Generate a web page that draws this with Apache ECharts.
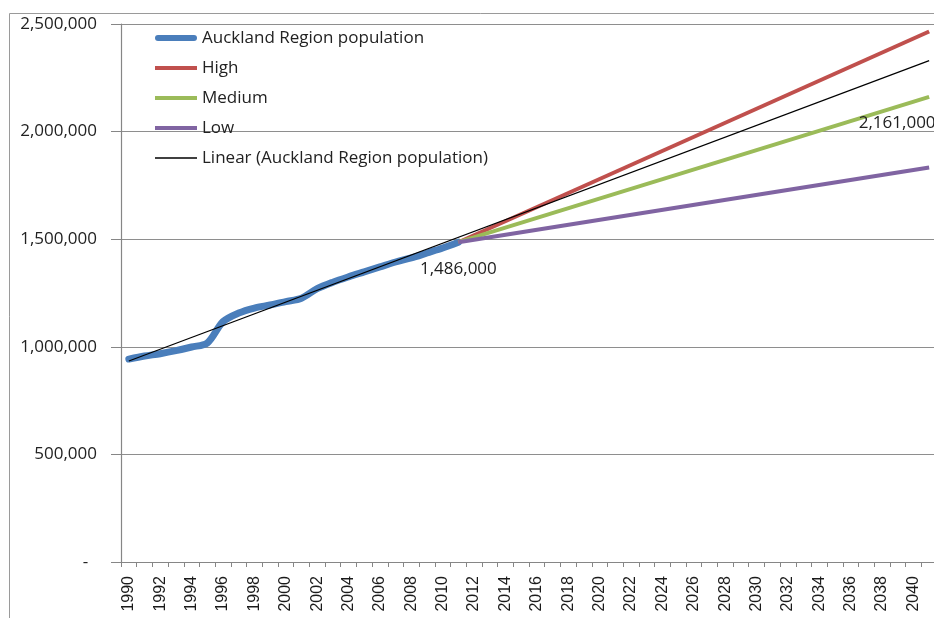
<!DOCTYPE html>
<html>
<head>
<meta charset="utf-8">
<script src="https://cdn.jsdelivr.net/npm/echarts@6/dist/echarts.min.js"></script>
<style>
html,body{margin:0;padding:0;overflow:hidden;background:#fff;}
#main{width:950px;height:618px;}
</style>
</head>
<body>
<div id="main"></div>
<script>
// Years on the category axis
const years = [];
for (let y = 1990; y <= 2041; y++) years.push(String(y));

// Observed Auckland Region population, 1990-2011
const aucklandYears = ['1990','1991','1992','1993','1994','1995','1996','1997','1998','1999','2000',
  '2001','2002','2003','2004','2005','2006','2007','2008','2009','2010','2011'];
const aucklandValues = [943000, 957000, 968000, 982000, 999000, 1018000, 1117000, 1157000, 1180000, 1194000, 1210000,
  1226000, 1270000, 1300000, 1325000, 1348000, 1371000, 1394000, 1413000, 1436000, 1459000, 1486000];

// Projections (start 2011, end 2041)
const projYears = ['2011', '2041'];
const highValues = [1486000, 2465000];
const mediumValues = [1486000, 2161000];
const lowValues = [1486000, 1833000];

// Linear trendline endpoints
const linearYears = ['1990', '2041'];
const linearValues = [934000, 2330000];

const yTicks = [0, 500000, 1000000, 1500000, 2000000, 2500000];

const legendNames = ['Auckland Region population', 'High', 'Medium', 'Low', 'Linear (Auckland Region population)'];

const fmt = v => v.toLocaleString('en-US');
const FONT = '"Open Sans", "Liberation Sans", sans-serif';

function pairs(xs, vs, labelIdx, labelOffset) {
  return xs.map((x, i) => {
    const item = { value: [x, vs[i]] };
    if (i === labelIdx) {
      item.label = {
        show: true, position: 'bottom', offset: labelOffset,
        formatter: () => fmt(vs[i]),
        fontSize: 17, color: '#222', fontFamily: FONT
      };
    }
    return item;
  });
}

const chart = echarts.init(document.getElementById('main'));
chart.setOption({
  animation: false,
  backgroundColor: '#fff',
  graphic: [{
    type: 'rect', left: 7, top: 11, shape: { width: 1000, height: 700 },
    style: { fill: 'none', stroke: '#9a9a9a', lineWidth: 1 }, z: -1
  }],
  grid: { left: 121, top: 24, right: 13, bottom: 56 },
  legend: {
    orient: 'vertical', left: 150, top: 23,
    itemWidth: 42, itemHeight: 14, itemGap: 10, symbolKeepAspect: true,
    textStyle: { fontSize: 17, color: '#222', fontFamily: FONT, lineHeight: 20 },
    data: [
      { name: legendNames[0], icon: 'path://M3,0H39A3,3 0 0 1 39,6H3A3,3 0 0 1 3,0Z' },
      { name: legendNames[1], icon: 'path://M0,0H42V4H0Z' },
      { name: legendNames[2], icon: 'path://M0,0H42V4H0Z' },
      { name: legendNames[3], icon: 'path://M0,0H42V4H0Z' },
      { name: legendNames[4], icon: 'path://M0,0H42V1.4H0Z' }
    ]
  },
  xAxis: {
    type: 'category', data: years, boundaryGap: true,
    axisLine: { lineStyle: { color: '#868686', width: 1.2 } },
    axisTick: { show: true, interval: 0, length: 5, lineStyle: { color: '#868686' } },
    axisLabel: { interval: 1, rotate: 90, margin: 14, fontSize: 16, color: '#1a1a1a', fontFamily: '"Liberation Sans", Arial, sans-serif' },
    splitLine: { show: false }
  },
  yAxis: {
    type: 'value', min: yTicks[0], max: yTicks[yTicks.length - 1], interval: 500000,
    axisLine: { show: true, lineStyle: { color: '#868686', width: 1.2 } },
    axisTick: { show: true, length: 10, lineStyle: { color: '#868686' } },
    axisLabel: {
      margin: 24, fontSize: 17, color: '#222', fontFamily: FONT,
      formatter: v => v === 0 ? '-  ' : fmt(v)
    },
    splitLine: { show: true, lineStyle: { color: '#8e8e8e', width: 1.2 } }
  },
  series: [
    {
      name: legendNames[0], type: 'line', smooth: 0.3,
      showSymbol: true, symbolSize: 0, symbol: 'circle',
      lineStyle: { color: '#4A7EBB', width: 7, cap: 'round', join: 'round' },
      itemStyle: { color: '#4A7EBB' },
      data: pairs(aucklandYears, aucklandValues, aucklandValues.length - 1, [0, 13])
    },
    {
      name: legendNames[1], type: 'line', showSymbol: false, symbol: 'none',
      lineStyle: { color: '#C0504D', width: 4 }, itemStyle: { color: '#C0504D' },
      data: pairs(projYears, highValues, -1)
    },
    {
      name: legendNames[2], type: 'line', showSymbol: true, symbol: 'circle', symbolSize: 0,
      lineStyle: { color: '#9BBB59', width: 4 }, itemStyle: { color: '#9BBB59' },
      data: pairs(projYears, mediumValues, 1, [-32, 13])
    },
    {
      name: legendNames[3], type: 'line', showSymbol: false, symbol: 'none',
      lineStyle: { color: '#8064A2', width: 4 }, itemStyle: { color: '#8064A2' },
      data: pairs(projYears, lowValues, -1)
    },
    {
      name: legendNames[4], type: 'line', showSymbol: false, symbol: 'none',
      lineStyle: { color: '#000', width: 1.2 }, itemStyle: { color: '#000' },
      data: pairs(linearYears, linearValues, -1)
    }
  ]
});
</script>
</body>
</html>
